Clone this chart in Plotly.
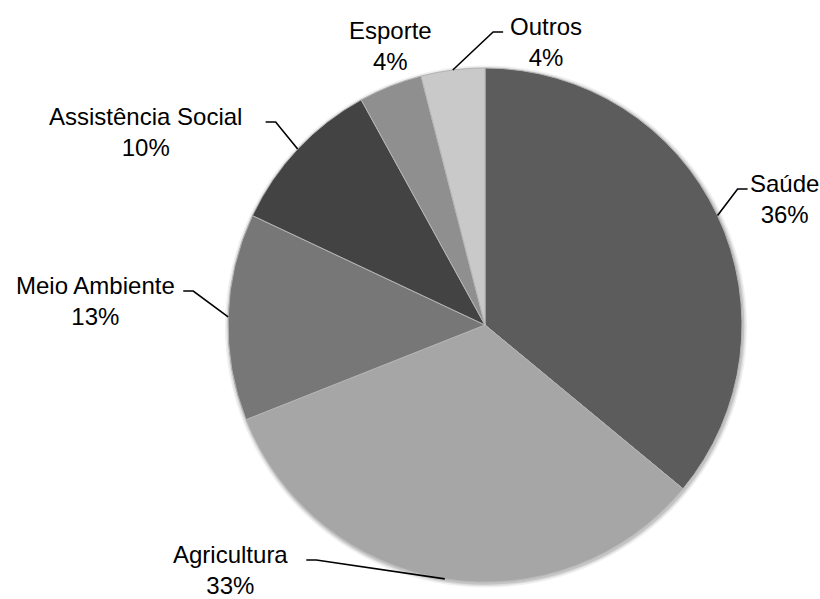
import math
import plotly.graph_objects as go

# Distribution of projects by area
categories = ["Saúde", "Agricultura", "Meio Ambiente", "Assistência Social", "Esporte", "Outros"]
values = [36, 33, 13, 10, 4, 4]
colors = ["#5c5c5c", "#a6a6a6", "#777777", "#434343", "#8f8f8f", "#c9c9c9"]

W, H = 820, 599
CX, CY, R = 485, 325, 257  # pie centre and radius, in pixels

# label block centres (pixels) and whether a leader line is drawn
label_pos = [(784, 199), (231, 570), (95, 301), (145, 132), (390, 46), (546, 42)]
leader = [True, True, True, True, False, True]

FONT_SIZE = 24


def px(x):
    return x / W


def py(y):
    return 1 - y / H


# soft shadow ring around the pie
for grow, shade in [(4, "#f0f0f0"), (2.5, "#dddddd"), (1.2, "#c4c4c4")]:
    fig_shape = dict(
        type="circle", xref="paper", yref="paper", layer="below",
        x0=px(CX - R - grow + 1), x1=px(CX + R + grow + 1),
        y0=py(CY + R + grow + 1.5), y1=py(CY - R - grow + 1.5),
        fillcolor=shade, line=dict(width=0),
    )
    if grow == 4:
        shapes = [fig_shape]
    else:
        shapes.append(fig_shape)

fig = go.Figure(
    go.Pie(
        labels=categories,
        values=values,
        sort=False,
        direction="clockwise",
        rotation=0,
        marker=dict(colors=colors, line=dict(color="#b5b5b5", width=1)),
        textinfo="none",
        hoverinfo="label+percent",
        domain=dict(x=[px(CX - R), px(CX + R)], y=[py(CY + R), py(CY - R)]),
        showlegend=False,
    )
)
for s in shapes:
    fig.add_shape(**s)

total = sum(values)
cum = 0
font = dict(family="Liberation Sans, Arial, sans-serif", size=FONT_SIZE, color="#000000")
for name, v, (lx, ly), has_line in zip(categories, values, label_pos, leader):
    mid = 90 - 360 * (cum + v / 2) / total
    cum += v
    pct = round(100 * v / total)
    fig.add_annotation(
        x=px(lx), y=py(ly), xref="paper", yref="paper",
        text=f"{name}<br>{pct}%", showarrow=False, font=font,
        xanchor="center", yanchor="middle", align="center",
    )
    if not has_line:
        continue
    ex = CX + R * math.cos(math.radians(mid))
    ey = CY - R * math.sin(math.radians(mid))
    # short horizontal tick beside the name, then a straight run to the slice
    half_w = 0.27 * FONT_SIZE * len(name)
    ty = ly - 10
    side = 1 if ex > lx else -1
    hx0 = lx + side * (half_w + 4)
    hx1 = lx + side * (half_w + 14)
    fig.add_shape(
        type="path", xref="paper", yref="paper",
        path=f"M {px(hx0)} {py(ty)} L {px(hx1)} {py(ty)} L {px(ex)} {py(ey)}",
        line=dict(color="#000000", width=1.6),
    )

fig.update_layout(
    width=W, height=H,
    margin=dict(l=0, r=0, t=0, b=0),
    paper_bgcolor="#ffffff",
    plot_bgcolor="#ffffff",
)

fig.write_html("out.html")
